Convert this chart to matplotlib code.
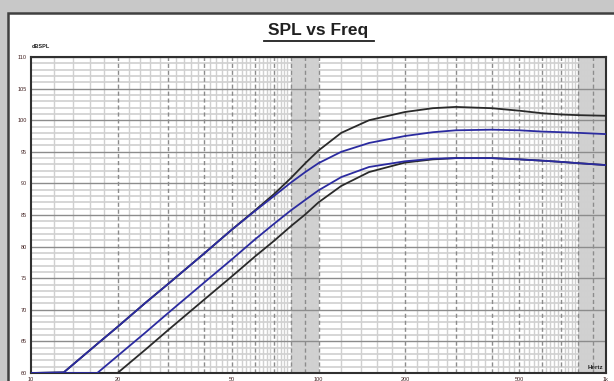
import matplotlib.pyplot as plt
from matplotlib.patches import Rectangle
from matplotlib.lines import Line2D

plt.rcParams['font.family'] = ['Liberation Sans', 'DejaVu Sans']

freq = [10, 13, 15, 17, 20, 25, 30, 40, 50, 60, 70, 80, 90, 100, 120, 150,
        200, 250, 300, 400, 500, 600, 700, 800, 1000]

spl_black_hi = [60, 60.1, 62.5, 64.6, 67.3, 71.1, 74.1, 78.9, 82.7, 85.7, 88.3, 90.8, 93.2,
                95.2, 98.0, 100.0, 101.3, 101.9, 102.1, 101.9, 101.5, 101.1, 100.9, 100.8, 100.7]
spl_blue_hi = [60, 60.1, 62.5, 64.6, 67.3, 71.1, 74.1, 78.9, 82.7, 85.6, 88.0, 90.1, 91.8,
               93.2, 95.0, 96.4, 97.5, 98.1, 98.4, 98.5, 98.4, 98.2, 98.1, 98.0, 97.8]
spl_black_lo = [60, 60, 60, 60, 60, 63.7, 66.8, 71.6, 75.3, 78.4, 80.9, 83.2, 85.1,
                87.0, 89.6, 91.8, 93.3, 93.8, 94.0, 94.0, 93.8, 93.6, 93.4, 93.2, 92.9]
spl_blue_lo = [60, 60, 60, 60, 62.7, 66.4, 69.5, 74.3, 78.0, 81.1, 83.6, 85.7, 87.4,
               88.9, 91.0, 92.6, 93.5, 93.9, 94.0, 94.0, 93.8, 93.6, 93.4, 93.2, 92.9]

yticks = [60, 65, 70, 75, 80, 85, 90, 95, 100, 105, 110]
xticks = [10, 20, 50, 100, 200, 500, 1000]
xlabels = ['10', '20', '50', '100', '200', '500', '1k']

fig = plt.figure(figsize=(6.14, 3.81), dpi=100)
fig.patch.set_facecolor('#c8c8c8')
# white panel with dark border, behind the axes
panel = Rectangle((8 / 614, -0.1), 1.2, 1 - 13 / 381 + 0.1,
                  transform=fig.transFigure, facecolor='white',
                  edgecolor='#404040', linewidth=1.8, zorder=-5)
fig.patches.append(panel)

ax = fig.add_axes([31 / 614, 1 - 373 / 381, (606 - 31) / 614, (373 - 57) / 381])
ax.set_zorder(1)
ax.set_xscale('log')
ax.set_xlim(10, 1000)
ax.set_ylim(60, 110)

# dense grid areas look grey
ax.axvspan(80, 100, color='#d2d2d2', lw=0, zorder=0.2)
ax.axvspan(800, 1000, color='#d2d2d2', lw=0, zorder=0.2)

# grid
for y in range(60, 111):
    if y % 5 == 0:
        ax.axhline(y, color='#8c8c8c', lw=1.0, zorder=1)
    else:
        ax.axhline(y, color='#d0d0d0', lw=1.2, zorder=0.5)
minor_x = [f for f in range(12, 100, 2) if f % 10] + [f for f in range(120, 1000, 20) if f % 100]
for f in minor_x:
    ax.axvline(f, color='#d0d0d0', lw=1.0, zorder=0.5)
major_x = list(range(20, 100, 10)) + [100] + list(range(200, 1000, 100))
for f in major_x:
    ax.axvline(f, color='#8c8c8c', lw=1.0, ls=(0, (3, 2)), zorder=1)

ax.plot(freq, spl_black_hi, color='#2a2a2a', lw=1.3, zorder=3)
ax.plot(freq, spl_black_lo, color='#2a2a2a', lw=1.3, zorder=3)
ax.plot(freq, spl_blue_hi, color='#2b2ba0', lw=1.3, zorder=4)
ax.plot(freq, spl_blue_lo, color='#2b2ba0', lw=1.3, zorder=4)

ax.set_xticks(xticks)
ax.set_xticklabels(xlabels)
ax.xaxis.set_minor_locator(plt.NullLocator())
ax.set_yticks(yticks)
ax.tick_params(length=0, labelsize=4, colors='#402020', pad=3)
for s in ax.spines.values():
    s.set_color('#303030')
    s.set_linewidth(1.5)

fig.text(318 / 614, 1 - 31 / 381, 'SPL vs Freq', ha='center', va='center',
         fontsize=12.5, fontweight='bold', color='#202020')
fig.lines.append(Line2D([264 / 614, 374 / 614], [1 - 40.5 / 381, 1 - 40.5 / 381],
                        transform=fig.transFigure, color='#202020', lw=1.3))
fig.text(32 / 614, 1 - 47 / 381, 'dBSPL', ha='left', va='center', fontsize=4,
         fontweight='bold', color='#202020')
ax.text(0.995, 0.01, 'Hertz', transform=ax.transAxes, ha='right', va='bottom',
        fontsize=4.5, fontweight='bold', color='#202020', zorder=5)

fig.savefig('out.png', dpi=100, facecolor=fig.get_facecolor())
